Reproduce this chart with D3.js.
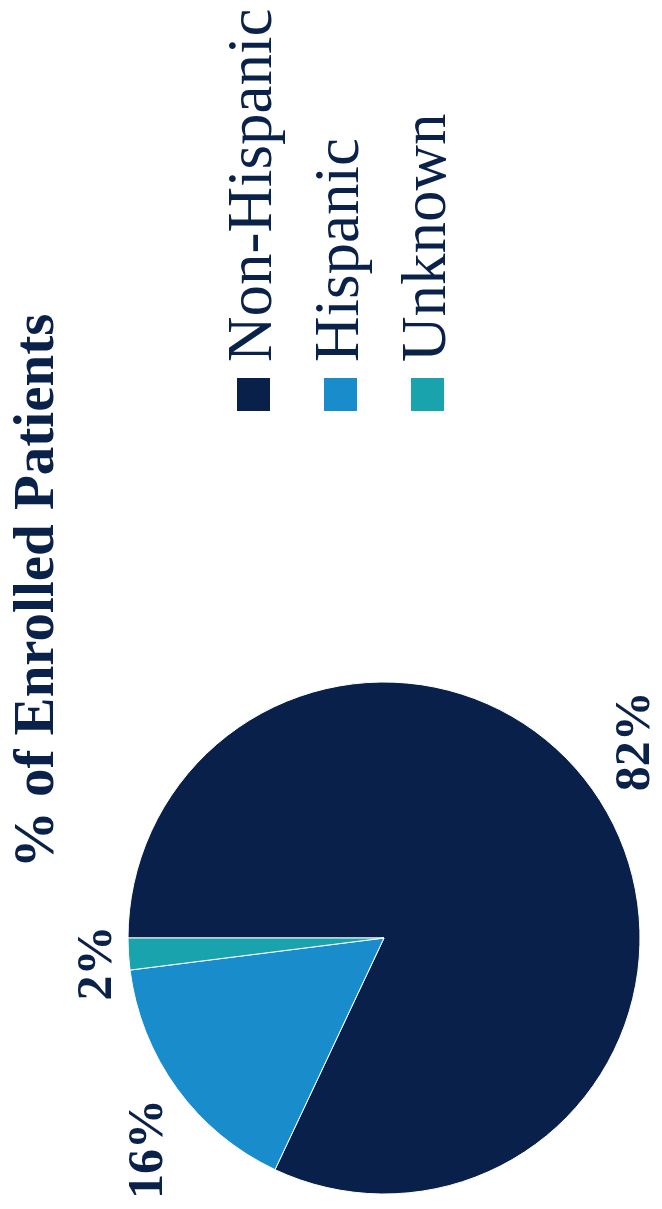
<!DOCTYPE html>
<html>
<head>
<meta charset="utf-8">
<script src="https://cdn.jsdelivr.net/npm/d3@7"></script>
<style>
  html, body { margin: 0; padding: 0; background: #ffffff; }
  svg { display: block; }
</style>
</head>
<body>
<div id="chart"></div>
<script>
// Ethnicity breakdown of enrolled patients
const categories = ["Non-Hispanic", "Hispanic", "Unknown"];
const shares = [82, 16, 2];
const valueLabels = ["82%", "16%", "2%"];
const colors = ["#08204a", "#198dcc", "#19a3ad"];
const title = "% of Enrolled Patients";

const W = 662, H = 1209;
const ink = "#0a2249";
const serif = "'Liberation Serif', 'Times New Roman', serif";

const svg = d3.select("#chart").append("svg")
  .attr("width", W).attr("height", H);

// The whole chart is laid out landscape and turned a quarter turn counter-clockwise.
const g = svg.append("g")
  .attr("transform", `translate(0,${H}) rotate(-90)`);

// Title
g.append("text")
  .attr("x", 618).attr("y", 53)
  .attr("text-anchor", "middle")
  .attr("font-family", serif)
  .attr("font-weight", "bold")
  .attr("font-size", 57)
  .attr("fill", ink)
  .text(title);

// Pie
const cx = 271, cy = 384, r = 256;
const pie = d3.pie().sort(null).value(d => d);
const arcs = pie(shares);
const arc = d3.arc().innerRadius(0).outerRadius(r);

const pieG = g.append("g").attr("transform", `translate(${cx},${cy})`);
pieG.selectAll("path.slice")
  .data(arcs)
  .join("path")
  .attr("class", "slice")
  .attr("d", arc)
  .attr("fill", (d, i) => colors[i])
  .attr("stroke", "#ffffff")
  .attr("stroke-width", 1);

// Data labels: anchored to a point just beyond the rim at the slice's mid-angle,
// with the label box pushed outward from that point.
const labelSize = 50, labelGap = 18;
const clamp = t => Math.max(-1, Math.min(1, t));
const labels = pieG.selectAll("text.val")
  .data(arcs)
  .join("text")
  .attr("class", "val")
  .attr("text-anchor", "middle")
  .attr("font-family", serif)
  .attr("font-weight", "bold")
  .attr("font-size", labelSize)
  .attr("fill", ink)
  .text((d, i) => valueLabels[i]);

labels.each(function(d) {
  const w = this.getComputedTextLength();
  const h = labelSize * 0.68;
  const a = (d.startAngle + d.endAngle) / 2;
  const ux = Math.sin(a), uy = -Math.cos(a);
  const px = ux * (r + labelGap), py = uy * (r + labelGap);
  const x = px + (w / 2) * clamp(ux / 0.3);
  const y = py + (h / 2) * clamp(uy / 0.3);
  d3.select(this).attr("x", x).attr("y", y + h / 2);
});

// Legend
const legendX = 798, legendY0 = 237, legendStep = 87, sw = 33;
const legend = g.append("g");
const items = legend.selectAll("g.item")
  .data(categories)
  .join("g")
  .attr("class", "item")
  .attr("transform", (d, i) => `translate(${legendX},${legendY0 + i * legendStep})`);
items.append("rect")
  .attr("width", sw).attr("height", sw)
  .attr("fill", (d, i) => colors[i]);
items.append("text")
  .attr("x", sw + 16).attr("y", sw + 1)
  .attr("font-family", serif)
  .attr("font-size", 63)
  .attr("fill", ink)
  .text(d => d);
</script>
</body>
</html>
